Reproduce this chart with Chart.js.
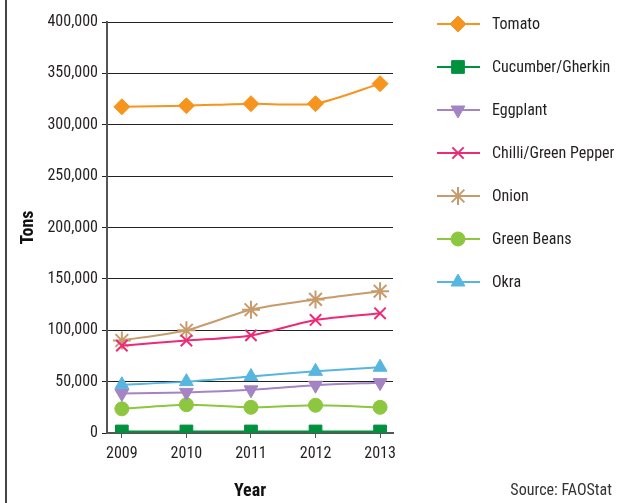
<!DOCTYPE html>
<html>
<head>
<meta charset="utf-8">
<script src="https://cdn.jsdelivr.net/npm/chart.js@4.4.1/dist/chart.umd.min.js"></script>
<style>
  body { margin: 0; background: #fff; }
  #wrap { position: relative; width: 618px; height: 503px; }
  #frame { position: absolute; left: 5px; top: 0; width: 2px; height: 503px; background: #444; }
  canvas { position: absolute; left: 0; top: 0; }
</style>
</head>
<body>
<div id="wrap">
  <div id="frame"></div>
  <canvas id="myChart" width="618" height="503"></canvas>
</div>
<script>
// data (tons)
var years = [2009, 2010, 2011, 2012, 2013];
var tomato = [317500, 318500, 320500, 320500, 340000];
var cucumber = [1500, 1500, 1500, 1500, 1500];
var eggplant = [38500, 39500, 42000, 46500, 49000];
var chilli = [85000, 90000, 95000, 110000, 116500];
var onion = [90000, 100000, 120000, 130000, 138000];
var greenBeans = [23500, 27500, 25000, 27000, 25000];
var okra = [47000, 50000, 55000, 60000, 64000];
var yTicks = [0, 50000, 100000, 150000, 200000, 250000, 300000, 350000, 400000];

var FONT = "'Roboto Condensed', 'DejaVu Sans Condensed', sans-serif";
var TEXT = '#231f20';

function pts(arr) {
  return arr.map(function (v, i) { return { x: years[i], y: v }; });
}

function series(label, arr, color, style, radius, rot) {
  var thin = (style === 'crossRot' || style === 'star');
  return {
    label: label,
    data: pts(arr),
    borderColor: color,
    backgroundColor: color,
    borderWidth: 2,
    pointStyle: style,
    pointRadius: radius,
    pointHoverRadius: radius,
    pointRotation: rot || 0,
    pointBorderWidth: thin ? 2 : 1,
    tension: 0.25
  };
}

var datasets = [
  series('Tomato', tomato, '#f7941d', 'rectRot', 8),
  series('Cucumber/Gherkin', cucumber, '#00913f', 'rect', 9),
  series('Eggplant', eggplant, '#a584c3', 'triangle', 8, 180),
  series('Chilli/Green Pepper', chilli, '#ec2a78', 'crossRot', 8),
  series('Onion', onion, '#c69c6d', 'star', 9),
  series('Green Beans', greenBeans, '#8dc63f', 'circle', 7),
  series('Okra', okra, '#57b6e0', 'triangle', 8)
];

// legend with a line + marker, plus the source note
var lineLegend = {
  id: 'lineLegend',
  afterDraw: function (chart) {
    var ctx = chart.ctx;
    ctx.save();
    chart.data.datasets.forEach(function (ds, i) {
      var y = 24 + i * 43;
      ctx.strokeStyle = ds.borderColor;
      ctx.lineWidth = 2;
      ctx.beginPath();
      ctx.moveTo(437, y);
      ctx.lineTo(480, y);
      ctx.stroke();
      ctx.fillStyle = ds.backgroundColor;
      ctx.lineWidth = ds.pointBorderWidth;
      Chart.helpers.drawPoint(ctx, {
        pointStyle: ds.pointStyle,
        rotation: ds.pointRotation,
        radius: ds.pointRadius,
        borderWidth: ds.pointBorderWidth
      }, 458, y);
      ctx.fillStyle = TEXT;
      ctx.font = '16px ' + FONT;
      ctx.textBaseline = 'middle';
      ctx.textAlign = 'left';
      ctx.fillText(ds.label, 492, y + 1);
    });
    ctx.font = '16px ' + FONT;
    ctx.fillStyle = '#333';
    ctx.textAlign = 'right';
    ctx.textBaseline = 'middle';
    ctx.fillText('Source: FAOStat', 612, 491);
    ctx.restore();
  }
};

const ctx = document.getElementById('myChart');

new Chart(ctx, {
  type: 'line',
  data: { datasets: datasets },
  plugins: [lineLegend],
  options: {
    responsive: false,
    animation: false,
    layout: { padding: { left: 0, right: 225, top: 22, bottom: 0 } },
    plugins: {
      legend: { display: false },
      tooltip: { enabled: false }
    },
    scales: {
      x: {
        type: 'linear',
        min: 2008.77,
        max: 2013.2,
        afterBuildTicks: function (scale) {
          scale.ticks = years.map(function (v) { return { value: v }; });
        },
        afterFit: function (scale) { scale.height = 70; },
        ticks: {
          color: TEXT,
          font: { family: FONT, size: 16 },
          padding: 6,
          callback: function (v) { return String(v); }
        },
        grid: { drawOnChartArea: false, drawTicks: true, tickLength: 5, color: '#555' },
        border: { color: '#555', width: 2 },
        title: { display: true, text: 'Year', color: '#111', font: { family: FONT, size: 18, weight: 'bold' }, padding: { top: 4, bottom: 1 } }
      },
      y: {
        min: 0,
        max: 400000,
        afterBuildTicks: function (scale) {
          scale.ticks = yTicks.map(function (v) { return { value: v }; });
        },
        afterFit: function (scale) { scale.width = 107; },
        ticks: {
          color: TEXT,
          font: { family: FONT, size: 16 },
          padding: 4,
          callback: function (v) { return v.toLocaleString('en-US'); }
        },
        grid: { color: '#222', lineWidth: 1, tickLength: 5 },
        border: { color: '#555', width: 2 },
        title: { display: true, text: 'Tons', color: '#111', font: { family: FONT, size: 18, weight: 'bold' }, padding: { top: 18, bottom: 4 } }
      }
    }
  }
});
</script>
</body>
</html>
